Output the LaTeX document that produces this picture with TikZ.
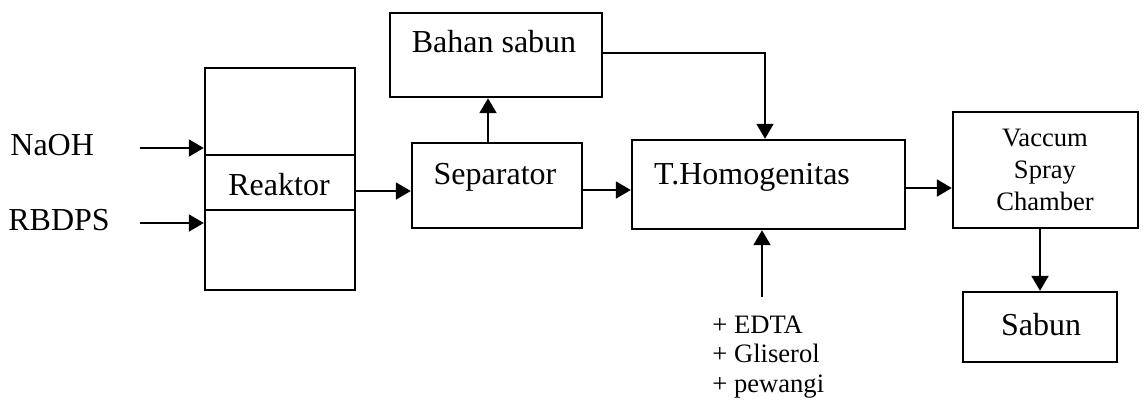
\documentclass[tikz,border=0pt]{standalone}
\usepackage{fontspec}
\setmainfont{Liberation Serif}
\usetikzlibrary{arrows.meta}
\begin{document}
\begin{tikzpicture}[x=0.5pt,y=-0.5pt,
  box/.style={draw,line width=1.2pt,inner sep=0pt},
  lbl/.style={font=\fontsize{16}{19}\selectfont,inner sep=0pt},
  small/.style={font=\fontsize{13.3}{16}\selectfont,inner sep=0pt},
  flow/.style={line width=1pt,-{Triangle[length=7.5pt,width=8.5pt]}}]
\useasboundingbox (0,0) rectangle (1144,413);

% boxes
\node[box,minimum width=75pt,minimum height=111pt] (reaktor) at (280,179) {};
\node[box,minimum width=85pt,minimum height=42.5pt] (separator) at (497,185.5) {};
\node[box,minimum width=106pt,minimum height=42pt] (bahan) at (496,55) {};
\node[box,minimum width=136.5pt,minimum height=44.5pt] (thomo) at (768.5,184.5) {};
\node[box,minimum width=92.5pt,minimum height=58pt] (vaccum) at (1045.5,170) {};
\node[box,minimum width=77pt,minimum height=35pt] (sabun) at (1040,327) {};

% reaktor inner lines
\draw[line width=1.2pt] ([yshift=12pt]reaktor.west) -- ([yshift=12pt]reaktor.east);
\draw[line width=1.2pt] ([yshift=-15.5pt]reaktor.west) -- ([yshift=-15.5pt]reaktor.east);

% texts
\node[lbl] (treaktor) at (279,185) {Reaktor};
\node[lbl] (tsep) at (495,177) {Separator};
\node[lbl] (tbahan) at (494,42) {Bahan sabun};
\node[lbl] (tthomo) at (752,177) {T.Homogenitas};
\node[small,align=center] (tvac) at (1045,170) {Vaccum\\Spray\\Chamber};
\node[lbl] (tsabun) at (1041,325) {Sabun};
\node[lbl,anchor=west] (naoh) at (10,145) {NaOH};
\node[lbl,anchor=west] (rbdps) at (8,220) {RBDPS};
\node[inner sep=0pt,anchor=west,align=left,font=\fontsize{13.3}{14.75}\selectfont] (adds) at (712,357) {+ EDTA\\+ Gliserol\\+ pewangi};

% connectors
\coordinate (naohin) at (140,148);
\coordinate (rbdpsin) at (140,223);
\coordinate (addin) at (762,297);
\draw[flow] (naohin) -- ([yshift=15.5pt]reaktor.west);
\draw[flow] (rbdpsin) -- ([yshift=-22pt]reaktor.west);
\draw[flow] (reaktor.east |- 0,191) -- (separator.west |- 0,191);
\draw[flow] (separator.north -| 488,0) -- (bahan.south -| 488,0);
\draw[flow] (separator.east |- 0,190) -- (thomo.west |- 0,190);
\draw[flow,line width=0.9pt] (bahan.east |- 0,53) -| (thomo.north -| 765,0);
\draw[flow] (addin) -- (thomo.south -| addin);
\draw[flow] (thomo.east |- 0,188) -- (vaccum.west |- 0,188);
\draw[flow] (sabun.north |- vaccum.south) -- (sabun.north);
\end{tikzpicture}
\end{document}
